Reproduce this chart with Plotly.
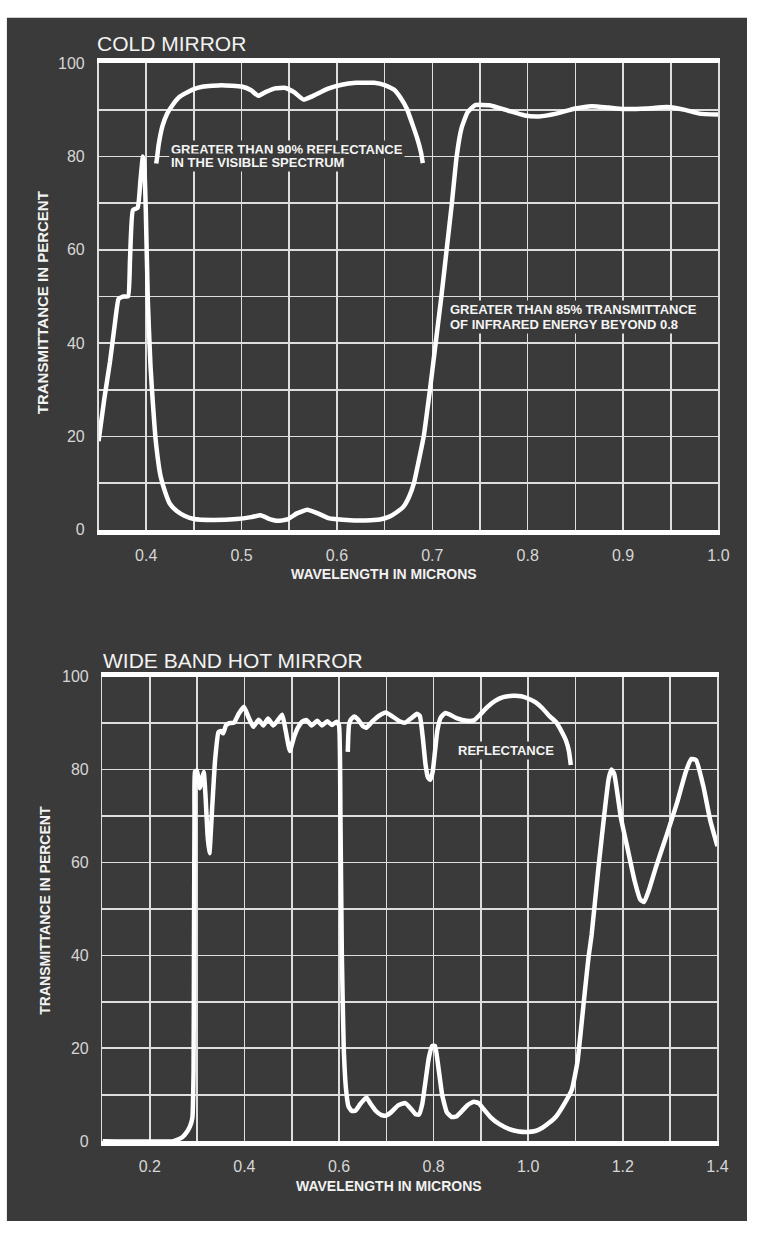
import plotly.graph_objects as go

# ---------------- data ----------------
# Cold mirror: transmittance curve
cold_trans_x = [0.350, 0.356, 0.362, 0.367, 0.371, 0.376, 0.381, 0.383, 0.386, 0.391, 0.394, 0.3965,
                0.398, 0.3996, 0.4017, 0.4045, 0.407, 0.410, 0.415, 0.420, 0.425, 0.432, 0.440, 0.450,
                0.470, 0.495, 0.510, 0.520, 0.528, 0.538, 0.548, 0.558, 0.569, 0.580, 0.591, 0.610,
                0.630, 0.645, 0.655, 0.663, 0.670, 0.6755, 0.6807, 0.686, 0.691, 0.6975, 0.7035, 0.7095,
                0.715, 0.7205, 0.7255, 0.7305, 0.737, 0.745, 0.760, 0.780, 0.797, 0.812, 0.830, 0.850,
                0.867, 0.885, 0.900, 0.925, 0.946, 0.965, 0.980, 1.000]
cold_trans_y = [19, 28, 36, 44, 49.5, 50, 50, 58, 68.5, 69, 75, 80,
                78, 68, 49, 35, 27, 19, 11.5, 8, 5.5, 4, 3, 2.3,
                2.1, 2.3, 2.7, 3.1, 2.4, 1.9, 2.2, 3.5, 4.3, 3.5, 2.5, 2.1,
                2.0, 2.2, 2.8, 3.8, 5.0, 7, 10, 15, 20, 30, 40, 50,
                60, 70, 80, 86, 89.5, 91, 91, 89.8, 88.8, 88.6, 89.2, 90.3,
                90.8, 90.5, 90.2, 90.3, 90.6, 90.0, 89.2, 89]

# Cold mirror: reflectance curve
cold_refl_x = [0.4105, 0.4115, 0.413, 0.417, 0.422, 0.4275, 0.435, 0.448, 0.460, 0.479, 0.500, 0.510,
               0.5174, 0.525, 0.535, 0.546, 0.555, 0.565, 0.575, 0.590, 0.605, 0.620, 0.639, 0.650,
               0.660, 0.667, 0.6734, 0.679, 0.684, 0.688, 0.690]
cold_refl_y = [78.5, 80, 82.5, 86.5, 89.2, 91, 92.8, 94.3, 95.0, 95.3, 95.0, 94.2,
               93.0, 93.8, 94.6, 94.7, 93.8, 92.2, 93.0, 94.5, 95.4, 95.8, 95.8, 95.3,
               94.3, 92.5, 90.2, 87, 84, 81, 78.6]

# Wide band hot mirror: transmittance curve
hot_trans_x = [0.100, 0.250, 0.258, 0.268, 0.277, 0.285, 0.290, 0.2925, 0.2935, 0.2945, 0.2955, 0.300,
               0.3056, 0.310, 0.314, 0.318, 0.322, 0.326, 0.332, 0.338, 0.345, 0.350, 0.355, 0.361,
               0.368, 0.378, 0.388, 0.399, 0.409, 0.419, 0.430, 0.440, 0.450, 0.461, 0.470, 0.480,
               0.488, 0.496, 0.505, 0.513, 0.522, 0.531, 0.542, 0.554, 0.564, 0.575, 0.585, 0.595,
               0.600, 0.603, 0.606, 0.610, 0.615, 0.620, 0.627, 0.635, 0.645, 0.658, 0.667, 0.678,
               0.690, 0.699, 0.710, 0.725, 0.740, 0.752, 0.762, 0.769, 0.776, 0.783, 0.790, 0.797,
               0.803, 0.810, 0.818, 0.828, 0.838, 0.848, 0.860, 0.872, 0.885, 0.895, 0.905, 0.920,
               0.940, 0.960, 0.980, 0.997, 1.015, 1.030, 1.045, 1.059, 1.075, 1.092, 1.104, 1.113,
               1.1205, 1.1275, 1.134, 1.148, 1.163, 1.170, 1.176, 1.182, 1.196, 1.210, 1.225, 1.237,
               1.245, 1.255, 1.270, 1.293, 1.315, 1.333, 1.345, 1.355, 1.370, 1.385, 1.400]
hot_trans_y = [0, 0, 0.3, 0.8, 1.8, 3.2, 5, 15, 45, 70, 79.5, 79.8,
               76, 78, 79.5, 74, 66, 62, 72, 82, 88, 88.3, 87.8, 89.5,
               90, 90.1, 92, 93.5, 91.2, 89.2, 90.7, 89.5, 91, 89.5, 90.5, 91.8,
               88, 84, 87, 89, 90.3, 90.7, 89.5, 90.5, 89.5, 90.4, 89.6, 90.3,
               89.5, 70, 40, 20, 11, 7.5, 6.5, 6.6, 8, 9.4, 8, 6.5,
               5.6, 5.5, 6.2, 7.7, 8.2, 7.0, 5.8, 5.7, 8, 13, 18, 20.5,
               20.5, 16, 10, 6.2, 5.2, 5.3, 6.5, 7.8, 8.5, 8.2, 7, 5.2,
               3.6, 2.6, 2.1, 2.0, 2.2, 2.9, 4, 5.3, 7.8, 11, 17, 25.5,
               33, 39.6, 44.4, 58.5, 72.3, 78, 80, 79, 69.6, 63, 56, 52,
               51.5, 54, 59, 66, 73, 79.5, 82.3, 82, 76.5, 69, 63.5]

# Wide band hot mirror: reflectance curve
hot_refl_x = [0.6185, 0.6195, 0.621, 0.625, 0.632, 0.640, 0.650, 0.658, 0.670, 0.685, 0.699, 0.712,
              0.728, 0.740, 0.752, 0.765, 0.771, 0.777, 0.783, 0.788, 0.793, 0.798, 0.803, 0.808,
              0.815, 0.825, 0.835, 0.850, 0.870, 0.885, 0.898, 0.914, 0.930, 0.947, 0.968, 0.985,
              0.997, 1.015, 1.030, 1.045, 1.059, 1.070, 1.080, 1.086, 1.090]
hot_refl_y = [83.8, 87, 89.5, 90.8, 91.4, 90.8, 89.4, 89.0, 90.3, 91.6, 92.3, 91.5,
              90.4, 90.1, 91.0, 92.0, 91.5, 87, 81, 78.3, 77.8, 79.5, 84, 88.5,
              91.2, 92.2, 91.8, 91.0, 90.5, 90.6, 91.8, 93.5, 94.8, 95.6, 95.9, 95.8,
              95.4, 94.5, 93.2, 91.5, 90.2, 88.3, 86.2, 84, 81]

# ticks / grid
cold_x_grid = [0.35, 0.40, 0.45, 0.50, 0.55, 0.60, 0.65, 0.70, 0.75, 0.80, 0.85, 0.90, 0.95, 1.00]
cold_x_labels = ["", "0.4", "", "0.5", "", "0.6", "", "0.7", "", "0.8", "", "0.9", "", "1.0"]
hot_x_grid = [0.1, 0.2, 0.3, 0.4, 0.5, 0.6, 0.7, 0.8, 0.9, 1.0, 1.1, 1.2, 1.3, 1.4]
hot_x_labels = ["", "0.2", "", "0.4", "", "0.6", "", "0.8", "", "1.0", "", "1.2", "", "1.4"]
y_grid = [0, 10, 20, 30, 40, 50, 60, 70, 80, 90, 100]
y_labels = ["0", "", "20", "", "40", "", "60", "", "80", "", "100"]

# ---------------- styling ----------------
W, H = 758, 1235
BG = "#3a3a3a"
CURVE = "#ffffff"
GRID = "#dedede"
TICK = "#d6d6d6"
FONT = "Liberation Sans"


def px(x):
    return x / W


def py(y):
    return 1 - y / H


fig = go.Figure()
curve_line = dict(color=CURVE, width=4.5, shape="spline", smoothing=0.4)
fig.add_trace(go.Scatter(x=cold_trans_x, y=cold_trans_y, mode="lines", line=curve_line,
                         xaxis="x", yaxis="y", hoverinfo="skip"))
fig.add_trace(go.Scatter(x=cold_refl_x, y=cold_refl_y, mode="lines", line=curve_line,
                         xaxis="x", yaxis="y", hoverinfo="skip"))
fig.add_trace(go.Scatter(x=hot_trans_x, y=hot_trans_y, mode="lines", line=curve_line,
                         xaxis="x2", yaxis="y2", hoverinfo="skip"))
fig.add_trace(go.Scatter(x=hot_refl_x, y=hot_refl_y, mode="lines", line=curve_line,
                         xaxis="x2", yaxis="y2", hoverinfo="skip"))

common_x = dict(showgrid=True, gridcolor=GRID, gridwidth=1.6, zeroline=False,
                showline=True, linecolor=CURVE, linewidth=5, mirror=True,
                tickmode="array", ticks="", tickfont=dict(family=FONT, size=16, color=TICK),
                ticklabelstandoff=7, fixedrange=True)
common_y = dict(showgrid=True, gridcolor=GRID, gridwidth=1.6, zeroline=False,
                showline=True, linecolor=GRID, linewidth=1.6, mirror=True,
                tickmode="array", tickvals=y_grid, ticktext=y_labels, ticks="",
                tickfont=dict(family=FONT, size=16, color=TICK), range=[0, 100],
                ticklabelstandoff=9, fixedrange=True)

fig.update_layout(
    autosize=True,
    margin=dict(l=0, r=0, t=0, b=0),
    paper_bgcolor="#ffffff",
    plot_bgcolor=BG,
    showlegend=False,
    xaxis=dict(domain=[px(100), px(729)], anchor="y", range=[0.35, 1.0],
               tickvals=cold_x_grid, ticktext=cold_x_labels, **common_x),
    yaxis=dict(domain=[py(529), py(56)], anchor="x", **common_y),
    xaxis2=dict(domain=[px(104), px(728)], anchor="y2", range=[0.1, 1.4],
                tickvals=hot_x_grid, ticktext=hot_x_labels, **common_x),
    yaxis2=dict(domain=[py(1149), py(678)], anchor="x2", **common_y),
    shapes=[dict(type="rect", xref="paper", yref="paper", x0=px(7), x1=1, y0=py(1230), y1=py(10),
                 fillcolor=BG, line=dict(width=0), layer="below")],
)

title_font = dict(family=FONT, size=21, color="#f2f2f2")
axis_font = dict(family=FONT, size=14, color="#f2f2f2", weight="bold")
note_font = dict(family=FONT, size=13, color="#f4f4f4", weight="bold")

ann = [
    dict(text="COLD MIRROR", x=px(96), y=py(36), xanchor="left", yanchor="middle", font=title_font),
    dict(text="WIDE BAND HOT MIRROR", x=px(102), y=py(662), xanchor="left", yanchor="middle", font=title_font),
    dict(text="WAVELENGTH IN MICRONS", x=px(390), y=py(574), xanchor="center", yanchor="middle", font=axis_font),
    dict(text="WAVELENGTH IN MICRONS", x=px(395), y=py(1194), xanchor="center", yanchor="middle", font=axis_font),
    dict(text="TRANSMITTANCE IN PERCENT", x=px(44), y=py(299), xanchor="center", yanchor="middle",
         textangle=-90, font=dict(family=FONT, size=15, color="#f2f2f2", weight="bold")),
    dict(text="TRANSMITTANCE IN PERCENT", x=px(46), y=py(915), xanchor="center", yanchor="middle",
         textangle=-90, font=dict(family=FONT, size=14, color="#f2f2f2", weight="bold")),
]
for a in ann:
    a.update(xref="paper", yref="paper", showarrow=False)

notes = [
    dict(text="GREATER THAN 90% REFLECTANCE", x=0.4244, y=81.6, xref="x", yref="y"),
    dict(text="IN THE VISIBLE SPECTRUM", x=0.4244, y=78.8, xref="x", yref="y"),
    dict(text="GREATER THAN 85% TRANSMITTANCE", x=0.7169, y=47.2, xref="x", yref="y"),
    dict(text="OF INFRARED ENERGY BEYOND 0.8", x=0.7169, y=44.0, xref="x", yref="y"),
    dict(text="REFLECTANCE", x=0.848, y=84.2, xref="x2", yref="y2"),
]
for n in notes:
    n.update(xanchor="left", yanchor="middle", showarrow=False, font=note_font,
             bgcolor=BG, borderpad=1)

fig.update_layout(annotations=ann + notes)

fig.write_html("out.html", default_width="100vw", default_height="100vh",
               config={"displayModeBar": False, "staticPlot": True, "responsive": True})

# remove the browser's default page margin so the figure fills the window from (0, 0)
with open("out.html", "r", encoding="utf-8") as f:
    html = f.read()
html = html.replace("<head>", "<head><style>html,body{margin:0;padding:0;overflow:hidden;}</style>", 1)
with open("out.html", "w", encoding="utf-8") as f:
    f.write(html)
